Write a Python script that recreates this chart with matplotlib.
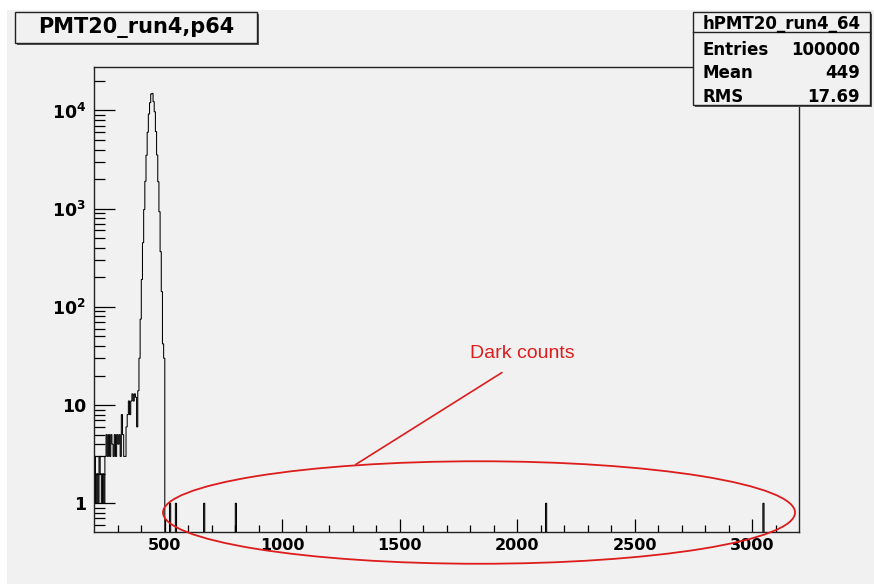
import matplotlib.pyplot as plt
import numpy as np
from matplotlib.patches import Ellipse, Rectangle
from matplotlib.ticker import FixedLocator, LogLocator, NullFormatter

# histogram binning (ADC channels)
bin_width = 5
x_low, x_high = 200, 3200

# low side noise, bins starting at 200, 205, ... 380
tail_start = 200
tail_counts = [3, 1, 2, 1, 3, 2, 1, 2, 1, 3, 5, 3, 5, 3, 5, 4, 3, 5, 3, 5,
               4, 5, 3, 8, 5, 3, 3, 6, 8, 11, 8, 11, 13, 11, 13, 12, 6]

# main peak, bins starting at 385 ... 495
peak_start = 385
peak_counts = [14, 30, 75, 190, 450, 980, 1900, 3500, 6000, 9200, 12000,
               14700, 14900, 12300, 9700, 6090, 3520, 1880, 930, 365, 143, 42, 30]

# isolated dark counts (bin left edge -> 1 entry)
dark_edges = [520, 545, 665, 800, 2120, 3045]
dark_counts = [1, 1, 1, 1, 1, 1]

hist_name = "hPMT20_run4_64"
stats_labels = ["Entries", "Mean", "RMS"]
stats_values = ["100000", "449", "17.69"]

edges = np.arange(x_low, x_high + bin_width, bin_width)
counts = np.zeros(len(edges) - 1)
i0 = (tail_start - x_low) // bin_width
counts[i0:i0 + len(tail_counts)] = tail_counts
i0 = (peak_start - x_low) // bin_width
counts[i0:i0 + len(peak_counts)] = peak_counts
for e, c in zip(dark_edges, dark_counts):
    counts[(e - x_low) // bin_width] = c

bg = '#f1f1f1'
red = '#dd1c1c'

fig = plt.figure(figsize=(8.74, 5.84), dpi=100, facecolor='white')
W, H = 874, 584

def fx(px):
    return px / W

def fy(py):
    return 1 - py / H

# canvas background
fig.patches.append(Rectangle((fx(7), 0), 1 - fx(7), fy(10), transform=fig.transFigure,
                             facecolor=bg, edgecolor='none', zorder=-10))

ax = fig.add_axes([fx(94.3), fy(532), fx(799.3) - fx(94.3), fy(67) - fy(532)])
ax.set_facecolor(bg)

plot_vals = np.where(counts > 0, counts, 1e-3)
ax.stairs(plot_vals, edges, baseline=None, color='black', lw=0.75)

ax.set_yscale('log')
ax.set_xlim(x_low, x_high)
ax.set_ylim(0.51, 27700)

for s in ax.spines.values():
    s.set_linewidth(1.0)
    s.set_color('#222222')

ax.xaxis.set_major_locator(FixedLocator([500, 1000, 1500, 2000, 2500, 3000]))
ax.xaxis.set_minor_locator(FixedLocator([v for v in range(300, 3200, 100) if v % 500 != 0]))
ax.set_xticklabels(['500', '1000', '1500', '2000', '2500', '3000'],
                   fontsize=11.5, fontweight='bold')
ax.yaxis.set_major_locator(FixedLocator([1, 10, 100, 1000, 10000]))
ax.yaxis.set_minor_locator(LogLocator(base=10, subs=np.arange(2, 10)))
ax.yaxis.set_minor_formatter(NullFormatter())
ax.set_yticklabels(['1', '10', r'$\mathbf{10}^{\mathbf{2}}$', r'$\mathbf{10}^{\mathbf{3}}$',
                    r'$\mathbf{10}^{\mathbf{4}}$'], fontsize=12.5, fontweight='bold')

ax.tick_params(axis='x', which='major', direction='in', length=9.4, width=0.9, pad=4,
               top=False, bottom=True)
ax.tick_params(axis='x', which='minor', direction='in', length=5, width=0.9, top=False)
ax.tick_params(axis='y', which='major', direction='in', length=15, width=0.9, pad=6,
               right=False)
ax.tick_params(axis='y', which='minor', direction='in', length=8, width=0.9, right=False)

# dark counts annotation
ell = Ellipse((0.5457, 0.0419), 0.8965, 0.2204, transform=ax.transAxes,
              facecolor='none', edgecolor=red, lw=1.3, clip_on=False, zorder=5)
ax.add_patch(ell)
ax.plot([0.3712, 0.5779], [0.1456, 0.3426], transform=ax.transAxes, color=red,
        lw=1.2, clip_on=False, zorder=5)
ax.text(0.6067, 0.3849, "Dark counts", transform=ax.transAxes, color=red,
        fontsize=14, family='Liberation Sans', ha='center', va='center')

# title box with shadow
fig.patches.append(Rectangle((fx(17), fy(45.3)), fx(242), 31.6 / H, transform=fig.transFigure,
                             facecolor='#555555', edgecolor='none', zorder=1))
fig.patches.append(Rectangle((fx(15), fy(43.3)), fx(242), 31.6 / H, transform=fig.transFigure,
                             facecolor=bg, edgecolor='#222222', lw=1.0, zorder=2))
fig.text(fx(136), fy(27.5), "PMT20_run4,p64", fontsize=15, fontweight='bold',
         ha='center', va='center', zorder=3)

# stats box with shadow
bx0, by0, bx1, by1 = 693.3, 11.7, 870, 105
fig.patches.append(Rectangle((fx(bx0 + 2), fy(by1 + 2)), fx(bx1 - bx0), (by1 - by0) / H,
                             transform=fig.transFigure, facecolor='#555555',
                             edgecolor='none', zorder=1))
fig.patches.append(Rectangle((fx(bx0), fy(by1)), fx(bx1 - bx0), (by1 - by0) / H,
                             transform=fig.transFigure, facecolor=bg,
                             edgecolor='#222222', lw=1.0, zorder=2))
fig.add_artist(plt.Line2D([fx(bx0), fx(bx1)], [fy(32.3), fy(32.3)],
                          transform=fig.transFigure, color='#222222', lw=1.0, zorder=3))
fig.text(fx((bx0 + bx1) / 2), fy(29.3), hist_name, fontsize=12, fontweight='bold',
         ha='center', va='baseline', zorder=3)
for lab, val, yb in zip(stats_labels, stats_values, [55, 78.3, 101.7]):
    fig.text(fx(703), fy(yb), lab, fontsize=12, fontweight='bold',
             ha='left', va='baseline', zorder=3)
    fig.text(fx(860), fy(yb), val, fontsize=12, fontweight='bold',
             ha='right', va='baseline', zorder=3)

fig.savefig('out.png', dpi=100, facecolor='white')
